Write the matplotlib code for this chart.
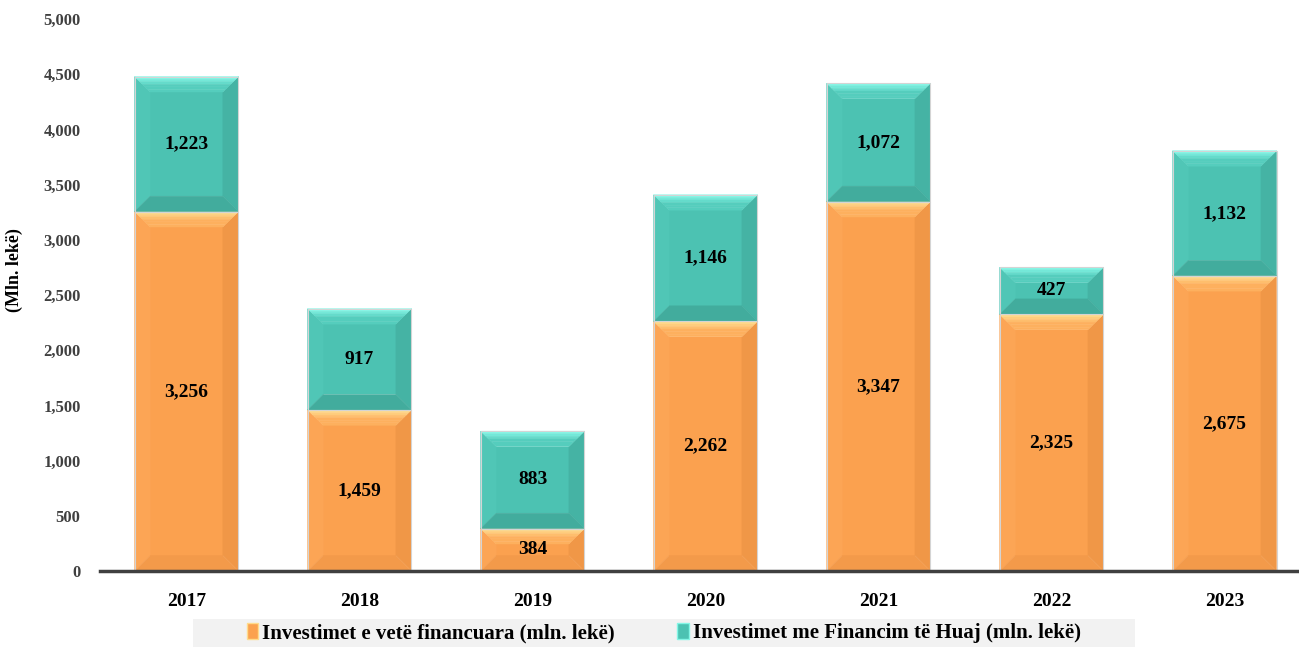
import matplotlib.pyplot as plt
import numpy as np
from matplotlib.colors import to_rgb
from matplotlib.patches import Polygon, Patch, Rectangle

years = ['2017', '2018', '2019', '2020', '2021', '2022', '2023']
own_funds = [3256, 1459, 384, 2262, 3347, 2325, 2675]
foreign_funds = [1223, 917, 883, 1146, 1072, 427, 1132]
labels = ['Investimet e vetë financuara (mln. lekë)',
          'Investimet me Financim të Huaj (mln. lekë)']

# face colours: main, top, left, right, bottom, top edge highlight
orange = ['#FBA14F', '#FDB05E', '#FCA555', '#F09747', '#F39A4A', '#FFDB8C']
teal = ['#4CC2B2', '#55CDBD', '#50C6B6', '#45B3A4', '#42AC9D', '#84F6E6']

plt.rcParams['font.family'] = ['Liberation Serif', 'DejaVu Serif']

fig = plt.figure(figsize=(12.99, 6.47), dpi=100)
ax = fig.add_axes([0.077, 0.1175, 0.923, 0.853])

BAR_W = 0.6
BX = 0.09   # bevel width in x data units
BY = 140    # bevel height in y data units


def face(ax, pts, c):
    ax.add_patch(Polygon(pts, closed=True, facecolor=c, edgecolor=c, lw=0.3))


def bevel_bar(ax, x, y0, h, cols):
    x0, x1 = x - BAR_W / 2, x + BAR_W / 2
    y1 = y0 + h
    dx = min(BX, BAR_W / 2)
    dy = min(BY, h / 2)
    face(ax, [(x0 + dx, y0 + dy), (x1 - dx, y0 + dy), (x1 - dx, y1 - dy), (x0 + dx, y1 - dy)], cols[0])
    face(ax, [(x0, y0), (x0, y1), (x0 + dx, y1 - dy), (x0 + dx, y0 + dy)], cols[2])
    face(ax, [(x1, y0), (x1, y1), (x1 - dx, y1 - dy), (x1 - dx, y0 + dy)], cols[3])
    face(ax, [(x0, y0), (x1, y0), (x1 - dx, y0 + dy), (x0 + dx, y0 + dy)], cols[4])
    # top face as a few strips fading from the highlight down
    n = 6
    c_hi, c_top = np.array(to_rgb(cols[5])), np.array(to_rgb(cols[1]))
    for k in range(n):
        t0, t1 = k / n, (k + 1) / n
        frac = min(1.0, k / (n * 0.5))
        c = c_hi * (1 - frac) + c_top * frac
        face(ax, [(x0 + dx * t0, y1 - dy * t0), (x1 - dx * t0, y1 - dy * t0),
                  (x1 - dx * t1, y1 - dy * t1), (x0 + dx * t1, y1 - dy * t1)], c)
    ax.add_patch(Polygon([(x0, y0), (x1, y0), (x1, y1), (x0, y1)], closed=True,
                         fill=False, edgecolor='#D4D4D4', lw=0.8))


for i in range(len(years)):
    bevel_bar(ax, i, 0, own_funds[i], orange)
    bevel_bar(ax, i, own_funds[i], foreign_funds[i], teal)
    ax.text(i, own_funds[i] / 2, f'{own_funds[i]:,}', ha='center', va='center',
            fontsize=14, fontweight='bold', color='black')
    ax.text(i, own_funds[i] + foreign_funds[i] / 2, f'{foreign_funds[i]:,}',
            ha='center', va='center', fontsize=14, fontweight='bold', color='black')

ax.set_xlim(-0.5, 6.43)
ax.set_ylim(0, 5000)
ax.set_xticks(range(len(years)))
ax.set_xticklabels(years, fontsize=14, fontweight='bold')
ax.set_yticks(range(0, 5001, 500))
ax.set_yticklabels([f'{v:,}' for v in range(0, 5001, 500)], fontsize=12,
                   fontweight='bold', color='#404040')
ax.tick_params(axis='both', length=0)
ax.tick_params(axis='y', pad=14)
ax.tick_params(axis='x', pad=16)
for s in ['top', 'right', 'left']:
    ax.spines[s].set_visible(False)
ax.spines['bottom'].set_color('#404040')
ax.spines['bottom'].set_linewidth(2.5)
ax.set_ylabel('(Mln. lekë)', fontsize=13, fontweight='bold')
ax.yaxis.set_label_coords(-0.064, 0.545)

# legend background band
fig.patches.append(Rectangle((193 / 1299, 0), (1135 - 193) / 1299, 28 / 647,
                             transform=fig.transFigure, facecolor='#F2F2F2',
                             edgecolor='none', zorder=0))
handles = [Patch(facecolor=orange[0], edgecolor=orange[5]),
           Patch(facecolor=teal[0], edgecolor=teal[5])]
leg = fig.legend(handles, labels, loc='center', bbox_to_anchor=(0.511, 14 / 647),
                 ncol=2, frameon=False, prop={'size': 15, 'weight': 'bold'},
                 handlelength=0.55, handleheight=0.8, handletextpad=0.2,
                 columnspacing=3.0, borderpad=0.0)

fig.savefig('out.png', dpi=100)
